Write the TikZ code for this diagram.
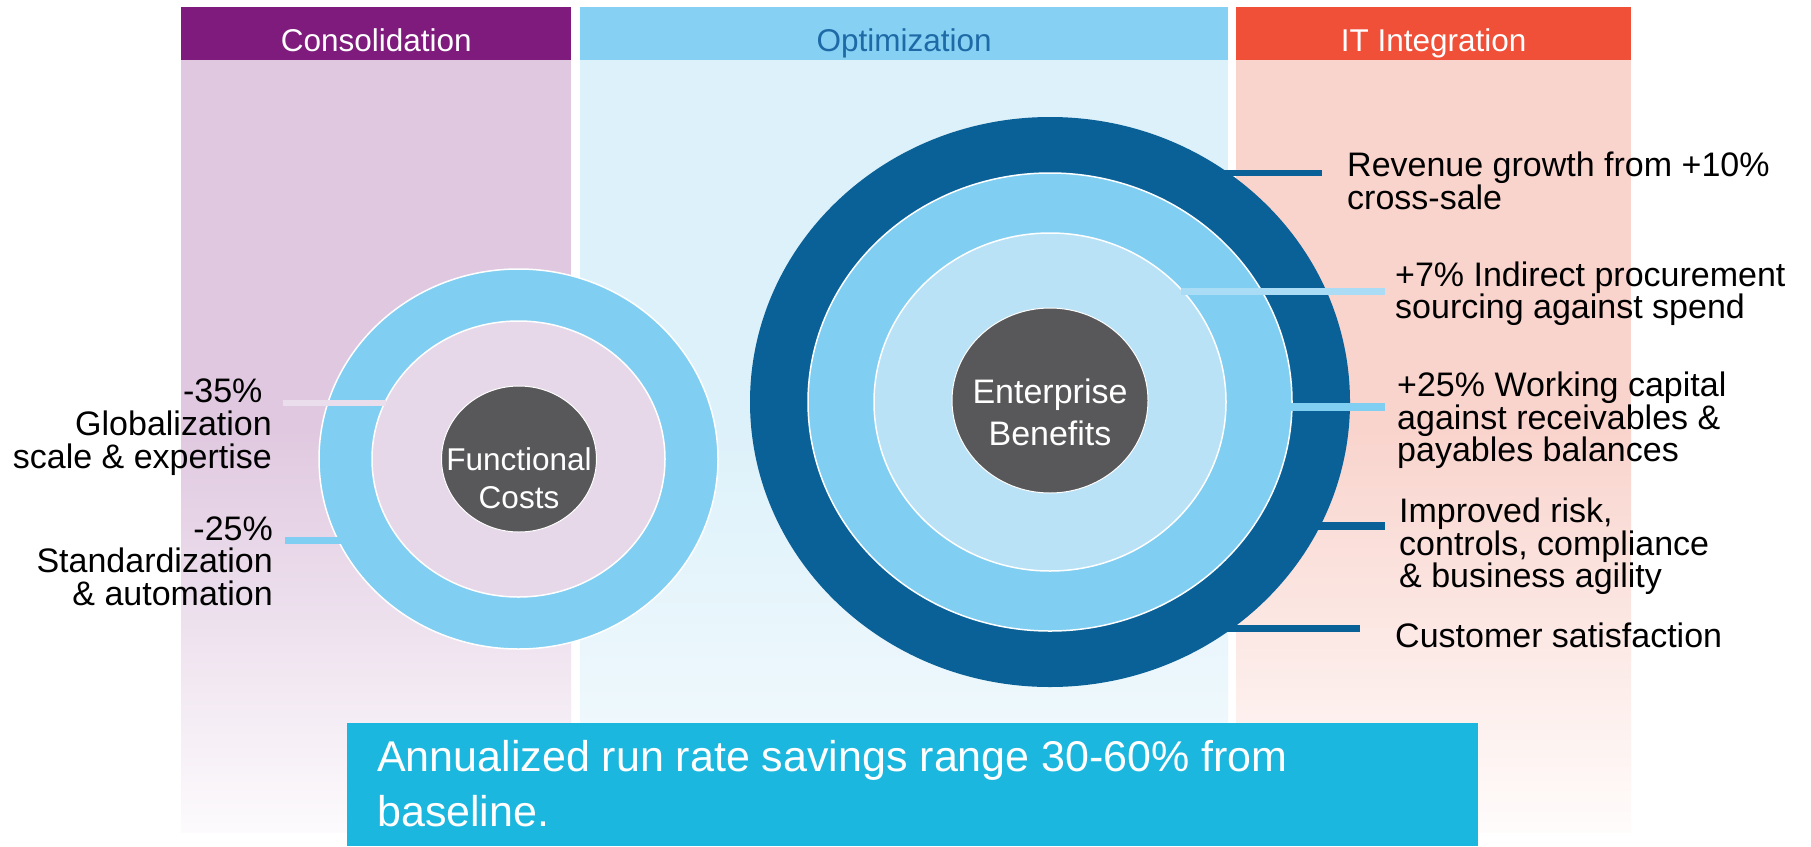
\documentclass[tikz,border=0pt]{standalone}
\usepackage{fontspec}
\setmainfont{Liberation Sans}
\usetikzlibrary{shapes.geometric}
\definecolor{conshead}{HTML}{7F1B7C}
\definecolor{consbody}{HTML}{E0C9E0}
\definecolor{opthead}{HTML}{86D0F4}
\definecolor{optbody}{HTML}{DDF1FA}
\definecolor{opttext}{HTML}{1E6AA6}
\definecolor{ithead}{HTML}{F04F38}
\definecolor{itbody}{HTML}{F9D4CD}
\definecolor{ringblue}{HTML}{80CEF2}
\definecolor{darkblue}{HTML}{0A6198}
\definecolor{paleblue}{HTML}{B9E2F6}
\definecolor{procblue}{HTML}{ABDCF5}
\definecolor{mauve}{HTML}{E6D8E9}
\definecolor{palemauve}{HTML}{EBDEEC}
\definecolor{coregray}{HTML}{58585A}
\definecolor{boxcyan}{HTML}{1CB7DE}
\begin{document}
\begin{tikzpicture}[x=1pt,y=-1pt,
  colhead/.style={inner sep=0pt, text height=44.5pt, text depth=8.5pt, anchor=north west,
    font=\fontsize{31.5}{36}\selectfont},
  ring/.style={ellipse, inner sep=0pt, draw=white, line width=1.5pt},
  coretext/.style={inner sep=0pt, anchor=base, align=center, text=white},
  lblR/.style={inner sep=0pt, anchor=base west, align=left, font=\fontsize{34}{32.5}\selectfont},
  lblL/.style={inner sep=0pt, anchor=base east, align=right, font=\fontsize{34}{32.8}\selectfont},
  conn/.style={line width=7pt}
]
\useasboundingbox (0,0) rectangle (1811,846);
\fill[white] (0,0) rectangle (1811,846);

% column bodies
\fill[consbody] (181,60) rectangle (571,430);
\shade[top color=consbody, bottom color=consbody!8!white] (181,429.5) rectangle (571,832);
\fill[optbody] (580,60) rectangle (1228,430);
\shade[top color=optbody, bottom color=optbody!30!white] (580,429.5) rectangle (1228,832);
\fill[itbody] (1236,60) rectangle (1631,430);
\shade[top color=itbody, bottom color=itbody!8!white] (1236,429.5) rectangle (1631,832);

% headers
\node[colhead, fill=conshead, text=white, minimum width=390pt] (hcons) at (181,7) {Consolidation};
\node[colhead, fill=opthead, text=opttext, minimum width=648pt] (hopt) at (580,7) {Optimization};
\node[colhead, fill=ithead, text=white, minimum width=395pt] (hit) at (1236,7) {IT Integration};

% functional costs circle
\node[ring, fill=ringblue, minimum width=399pt, minimum height=380pt] (fcout) at (518.5,459) {};
\node[ring, fill=mauve, minimum width=293pt, minimum height=276pt] (fcin) at (518.5,459) {};
\node[ring, fill=coregray, line width=1pt, minimum width=155pt, minimum height=146pt] (fccore) at (519,459) {};
\node[coretext, font=\fontsize{31.5}{38}\selectfont] (fctext) at (519,508) {Functional\\Costs};

% enterprise benefits circle
\node[ring, fill=darkblue, draw=none, minimum width=600pt, minimum height=570pt] (ebout) at (1050,402) {};
\node[ring, fill=ringblue, minimum width=484pt, minimum height=458pt] (ebmid) at (1050,402) {};
\node[ring, fill=paleblue, minimum width=352pt, minimum height=338pt] (ebin) at (1050,402) {};
\node[ring, fill=coregray, line width=1pt, minimum width=196pt, minimum height=185pt] (ebcore) at (1050,400.5) {};
\node[coretext, font=\fontsize{34}{42}\selectfont] (ebtext) at (1050,445) {Enterprise\\Benefits};

% right labels (anchored at the baseline of their last line)
\node[lblR] (rev) at (1347,209.2) {Revenue growth from +10\%\\cross-sale};
\node[lblR] (proc) at (1395,318.7) {+7\% Indirect procurement\\sourcing against spend};
\node[lblR] (wc) at (1397,461.7) {+25\% Working capital\\against receivables \&\\payables balances};
\node[lblR] (risk) at (1399,587.5) {Improved risk,\\controls, compliance\\\& business agility};
\node[lblR] (cust) at (1395,647) {Customer satisfaction};

% left labels
\node[lblL] (glob) at (272,468.3) {-35\%\kern9.4pt\\Globalization\\scale \& expertise};
\node[lblL] (std) at (273,605.6) {-25\%\\Standardization\\\& automation};

% connector ends
\coordinate (revA) at (1172,173);  \coordinate (revB) at (1322,173);
\coordinate (procA) at (1181,291); \coordinate (procB) at (1385,291);
\coordinate (wcA) at (1290,407);   \coordinate (wcB) at (1385,407);
\coordinate (riskA) at (1300,526); \coordinate (riskB) at (1385,526);
\coordinate (custA) at (1212,628); \coordinate (custB) at (1360,628);
\coordinate (globA) at (386,403);  \coordinate (globB) at (283,403);
\coordinate (stdA) at (342,540);   \coordinate (stdB) at (285,540);

\draw[conn, darkblue, line width=6pt] (revA) -- (revB);
\draw[conn, procblue] (procA) -- (procB);
\draw[conn, ringblue, line width=8pt] (wcA) -- (wcB);
\draw[conn, darkblue, line width=8pt] (riskA) -- (riskB);
\draw[conn, darkblue] (custA) -- (custB);
\draw[conn, palemauve, line width=6pt] (globA) -- (globB);
\draw[conn, ringblue] (stdA) -- (stdB);

% summary box
\node[fill=boxcyan, inner sep=0pt, minimum width=1131pt, minimum height=123pt, anchor=north west] (summary) at (347,723) {};
\node[inner sep=0pt, anchor=base west, align=left, text=white, font=\fontsize{43}{55.5}\selectfont] (sumtext) at (377,826.5)
  {Annualized run rate savings range 30-60\% from\\baseline.};
\end{tikzpicture}
\end{document}
